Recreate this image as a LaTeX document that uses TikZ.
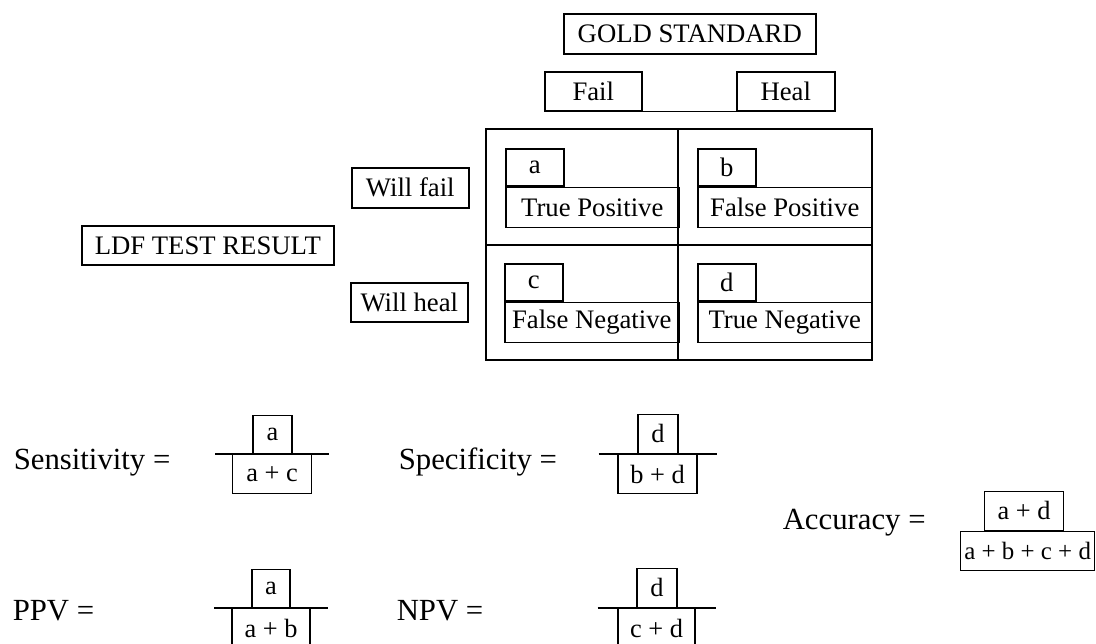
\documentclass[tikz,border=0pt]{standalone}
\usepackage{fontspec}
\setmainfont{Liberation Serif}
\usetikzlibrary{positioning,calc}

\begin{document}
\begin{tikzpicture}[
		x=0.02cm,y=-0.02cm,
		line width=0.9pt,
		sz/.style 2 args={minimum width=#1*0.02cm,minimum height=#2*0.02cm},
		lbox/.style={draw,inner sep=0pt,anchor=north west,font=\fontsize{15.2}{17}\selectfont},
		fbox/.style={draw,line width=0.7pt,inner sep=0pt,font=\fontsize{15}{17}\selectfont},
		flab/.style={anchor=base west,inner sep=0pt,font=\fontsize{17.5}{20}\selectfont},
		fline/.style={line width=0.7pt},
		]
		\useasboundingbox (0,0) rectangle (1096,643);
		
		\node[lbox,sz={252}{40}] (gold) at (563,13) {GOLD STANDARD};
		\node[lbox,sz={97}{39}] (fail) at (544,71) {Fail};
		\node[lbox,sz={98}{39}] (heal) at (736,71) {Heal};
		\draw (fail.south east) -- (heal.south west);
		
		\node[lbox,sz={386}{231}] (grid) at (485,128) {};
		\coordinate (mid) at (678,245);
		\draw (grid.north -| mid) -- (grid.south -| mid);
		\draw (grid.west |- mid) -- (grid.east |- mid);
		
		\foreach \nm/\x/\y/\w/\txt in {a/505/148/173/True Positive,b/697/148/174/False Positive,
			c/504/263/174/False Negative,d/697/263/174/True Negative}
		{\node[lbox,sz={58}{37}] (\nm) at (\x,\y) {\nm};
			\node[lbox,sz={\w}{40}] (\nm lab) at (\nm.south west) {\txt};}
		
		\node[lbox,sz={117}{40}] (wfail) at (351,167) {Will fail};
		\node[lbox,sz={117}{39}] (wheal) at (350,282) {Will heal};
		\node[lbox,sz={252}{39}] (ldf) at (81,225) {LDF TEST RESULT};
		
		\node[flab] (sens) at (13,469) {Sensitivity =};
		\node[fbox,sz={39}{38},anchor=south] (sensnum) at (272.5,454) {a};
		\node[fbox,sz={79}{39},anchor=north] (sensden) at (272,454) {a + c};
		
		\node[flab] (spec) at (398,469) {Specificity =};
		\node[fbox,sz={40}{39},anchor=south] (specnum) at (658,454) {d};
		\node[fbox,sz={79}{39},anchor=north] (specden) at (657.5,454) {b + d};
		
		\node[flab] (ppv) at (12,620) {PPV =};
		\node[fbox,sz={38}{38},anchor=south] (ppvnum) at (271,608) {a};
		\node[fbox,sz={78}{39},anchor=north] (ppvden) at (271,608) {a + b};
		
		\node[flab] (npv) at (396,620) {NPV =};
		\node[fbox,sz={40}{39},anchor=south] (npvnum) at (657,608) {d};
		\node[fbox,sz={77}{39},anchor=north] (npvden) at (656.5,608) {c + d};
		
		\foreach \f/\h in {sens/57,spec/59,ppv/57,npv/59}
		{\draw[fline] ($(\f den.north)+(-\h,0)$) -- ($(\f den.north)+(\h,0)$);}
		
		\node[flab] (acc) at (782,529) {Accuracy =};
		\node[fbox,sz={79}{39},anchor=south west] (accnum) at (984,531) {a + d};
		\node[fbox,sz={134}{39},anchor=north west,font=\fontsize{14.2}{17}\selectfont] (accden) at (960,531) {a + b + c + d};
	\end{tikzpicture}
\end{document}
